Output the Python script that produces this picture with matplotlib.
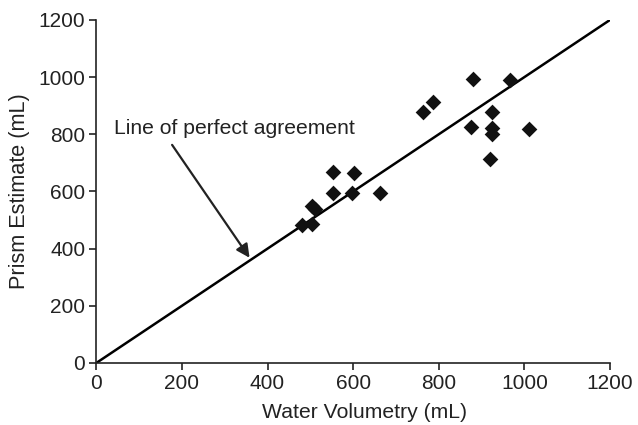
import matplotlib
matplotlib.use("Agg")
import matplotlib.pyplot as plt
import numpy as np

plt.rcParams['font.family'] = ['Liberation Sans', 'DejaVu Sans']

water_volumetry = [480, 505, 505, 510, 552, 552, 598, 601, 662,
                   763, 786, 875, 880, 924, 924, 924, 919, 966, 1011]
prism_estimate = [483, 485, 548, 540, 668, 595, 595, 665, 595,
                  878, 913, 826, 994, 878, 822, 801, 714, 990, 819]

tick_values = [0, 200, 400, 600, 800, 1000, 1200]
agreement = [0, 1200]

fig = plt.figure(figsize=(6.38, 4.25), dpi=100)
ax = fig.add_axes([0.151, 0.146, 0.805, 0.807])

ax.plot(agreement, agreement, color="black", lw=1.8, zorder=2)
ax.scatter(water_volumetry, prism_estimate, marker="D", s=64,
           color="#111111", zorder=3, linewidths=0)

# texte + flèche vers la droite d'accord parfait
ax.text(42, 822, "Line of perfect agreement", fontsize=15.2,
        color="#222222", va="center", ha="left")
ax.annotate("", xy=(358, 368), xytext=(177, 763),
            arrowprops=dict(arrowstyle="-|>", color="#222222", lw=1.6,
                            mutation_scale=20, shrinkA=0, shrinkB=0))

ax.set_xlim(0, 1200)
ax.set_ylim(0, 1200)
ax.set_xticks(tick_values)
ax.set_yticks(tick_values)
ax.tick_params(labelsize=15, length=5, width=1.2, pad=3, colors="#222222")
for s in ["top", "right"]:
    ax.spines[s].set_visible(False)
for s in ["left", "bottom"]:
    ax.spines[s].set_linewidth(1.2)
    ax.spines[s].set_color("#222222")

ax.set_xlabel("Water Volumetry (mL)", fontsize=15.2, color="#222222", labelpad=7)
ax.xaxis.label.set_x(0.522)
ax.set_ylabel("Prism Estimate (mL)", fontsize=15.6, color="#222222", labelpad=6)

fig.savefig("out.png", dpi=100)
